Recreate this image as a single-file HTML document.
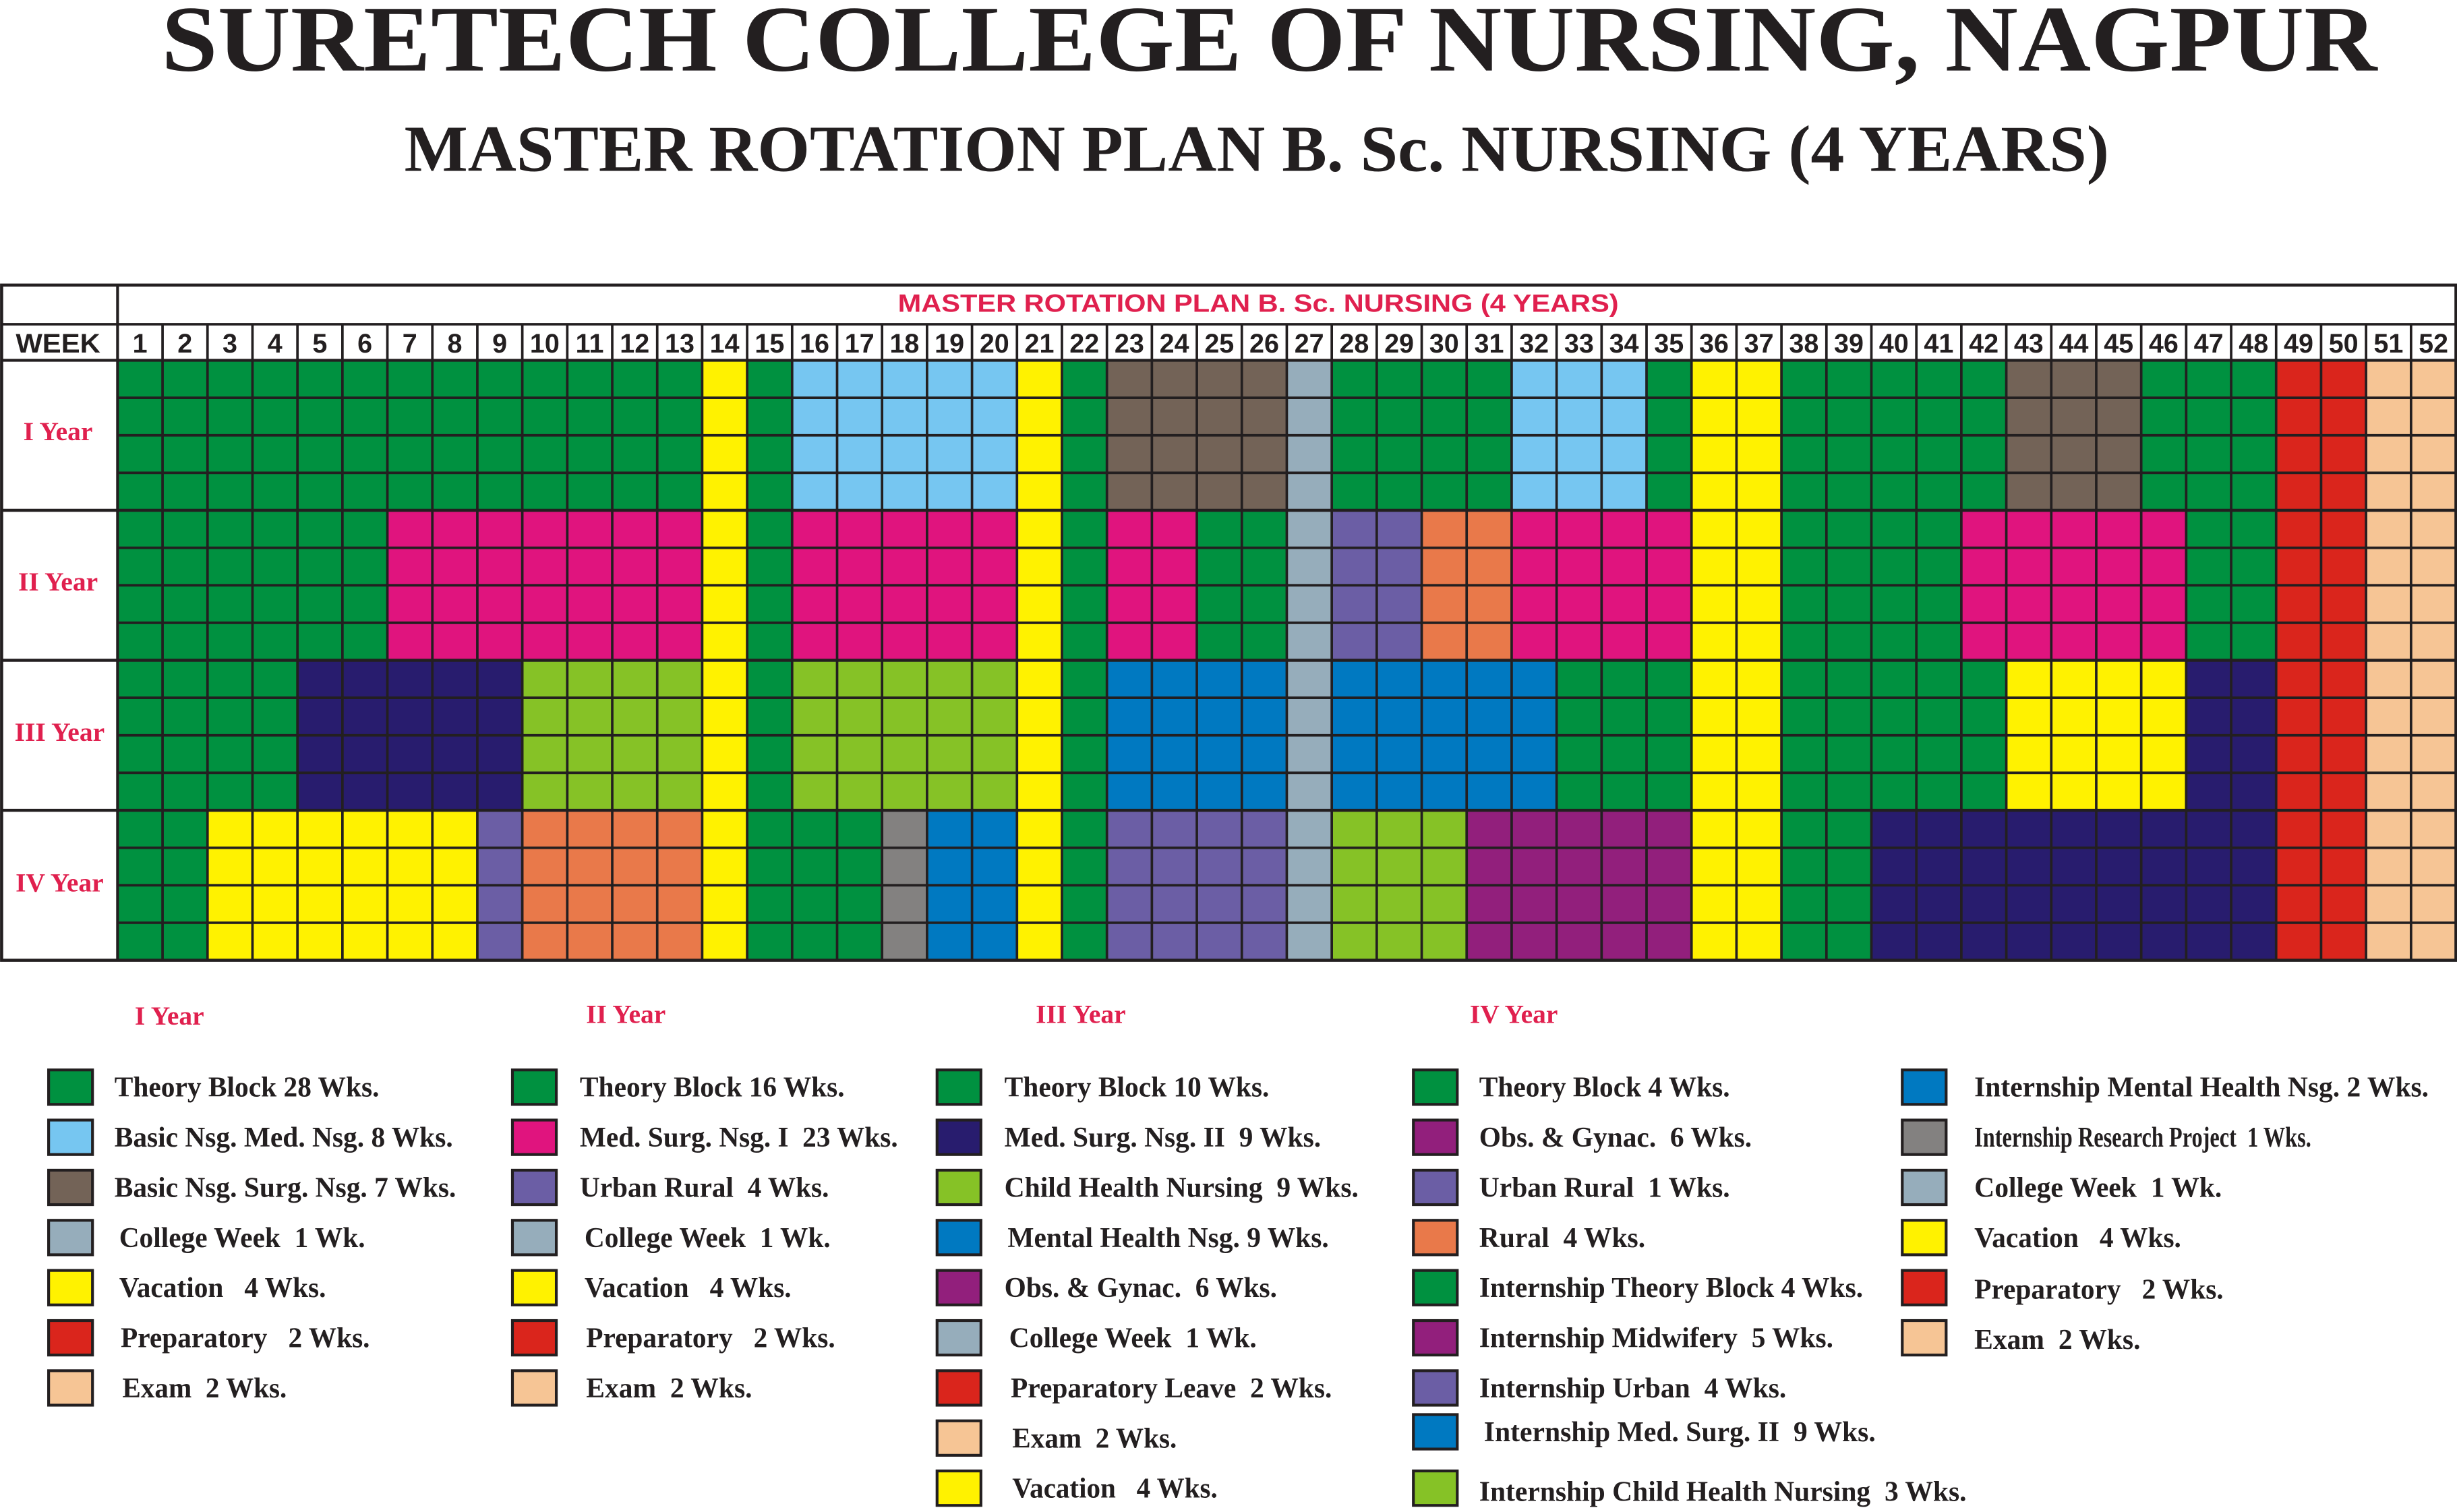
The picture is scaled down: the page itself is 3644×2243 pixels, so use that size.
<!DOCTYPE html>
<html><head><meta charset="utf-8"><style>
html,body{margin:0;padding:0;background:#fff;}
svg{display:block;}
text{white-space:pre;}
.lg{font-family:"Liberation Serif",serif;font-weight:bold;font-size:18px;fill:#231f20;}
.yr{font-family:"Liberation Serif",serif;font-weight:bold;font-size:17px;fill:#e0204e;}
.wk{font-family:"Liberation Sans Narrow","Liberation Sans",sans-serif;font-weight:bold;font-size:17px;fill:#231f20;text-anchor:middle;}
</style></head><body>
<svg id="s" width="3644" height="2243" viewBox="0 0 1568 965.2" xmlns="http://www.w3.org/2000/svg" xml:space="preserve">
<text x="810" y="45" text-anchor="middle" font-family="Liberation Serif,serif" font-weight="bold" font-size="60" fill="#231f20" textLength="1414" lengthAdjust="spacingAndGlyphs">SURETECH COLLEGE OF NURSING, NAGPUR</text>
<text x="802" y="109" text-anchor="middle" font-family="Liberation Serif,serif" font-weight="bold" font-size="42" fill="#231f20" textLength="1088" lengthAdjust="spacingAndGlyphs">MASTER ROTATION PLAN B. Sc. NURSING (4 YEARS)</text>
<g id="grid"></g>
<rect x="1" y="182" width="1566.4" height="431" fill="none" stroke="#231f20" stroke-width="2"/>
<line x1="75" y1="182" x2="75" y2="613" stroke="#231f20" stroke-width="1.8"/>
<line x1="1" y1="207" x2="1567.4" y2="207" stroke="#231f20" stroke-width="1.6"/>
<line x1="1" y1="230" x2="1567.4" y2="230" stroke="#231f20" stroke-width="1.8"/>
<text x="803" y="199" text-anchor="middle" font-family="Liberation Sans,sans-serif" font-weight="bold" font-size="16" fill="#e0204e" textLength="460" lengthAdjust="spacingAndGlyphs">MASTER ROTATION PLAN B. Sc. NURSING (4 YEARS)</text>
<text class="wk" x="37" y="225" textLength="54" lengthAdjust="spacingAndGlyphs">WEEK</text>
<g>
<text class="wk" x="89.3" y="225">1</text><text class="wk" x="118.0" y="225">2</text><text class="wk" x="146.7" y="225">3</text><text class="wk" x="175.4" y="225">4</text><text class="wk" x="204.1" y="225">5</text><text class="wk" x="232.8" y="225">6</text><text class="wk" x="261.5" y="225">7</text><text class="wk" x="290.2" y="225">8</text><text class="wk" x="318.9" y="225">9</text><text class="wk" x="347.6" y="225">10</text><text class="wk" x="376.3" y="225">11</text><text class="wk" x="405.0" y="225">12</text><text class="wk" x="433.7" y="225">13</text><text class="wk" x="462.4" y="225">14</text><text class="wk" x="491.1" y="225">15</text><text class="wk" x="519.8" y="225">16</text><text class="wk" x="548.5" y="225">17</text><text class="wk" x="577.2" y="225">18</text><text class="wk" x="605.9" y="225">19</text><text class="wk" x="634.6" y="225">20</text><text class="wk" x="663.3" y="225">21</text><text class="wk" x="692.0" y="225">22</text><text class="wk" x="720.7" y="225">23</text><text class="wk" x="749.4" y="225">24</text><text class="wk" x="778.1" y="225">25</text><text class="wk" x="806.8" y="225">26</text><text class="wk" x="835.5" y="225">27</text><text class="wk" x="864.2" y="225">28</text><text class="wk" x="892.9" y="225">29</text><text class="wk" x="921.6" y="225">30</text><text class="wk" x="950.3" y="225">31</text><text class="wk" x="979.0" y="225">32</text><text class="wk" x="1007.7" y="225">33</text><text class="wk" x="1036.4" y="225">34</text><text class="wk" x="1065.1" y="225">35</text><text class="wk" x="1093.8" y="225">36</text><text class="wk" x="1122.5" y="225">37</text><text class="wk" x="1151.2" y="225">38</text><text class="wk" x="1179.9" y="225">39</text><text class="wk" x="1208.6" y="225">40</text><text class="wk" x="1237.3" y="225">41</text><text class="wk" x="1266.0" y="225">42</text><text class="wk" x="1294.7" y="225">43</text><text class="wk" x="1323.4" y="225">44</text><text class="wk" x="1352.1" y="225">45</text><text class="wk" x="1380.8" y="225">46</text><text class="wk" x="1409.5" y="225">47</text><text class="wk" x="1438.2" y="225">48</text><text class="wk" x="1466.9" y="225">49</text><text class="wk" x="1495.6" y="225">50</text><text class="wk" x="1524.3" y="225">51</text><text class="wk" x="1553.0" y="225">52</text>
</g>
<text class="yr" x="37" y="281" text-anchor="middle">I Year</text>
<text class="yr" x="37" y="377" text-anchor="middle">II Year</text>
<text class="yr" x="38" y="473" text-anchor="middle">III Year</text>
<text class="yr" x="38" y="569" text-anchor="middle">IV Year</text>

<text class="yr" x="86" y="654">I Year</text>
<text class="yr" x="374" y="653">II Year</text>
<text class="yr" x="661" y="653">III Year</text>
<text class="yr" x="938" y="653">IV Year</text>
<g id="legend"></g>
<g>
<text class="lg" x="73" y="700" textLength="169" lengthAdjust="spacingAndGlyphs">Theory Block 28 Wks.</text>
<text class="lg" x="73" y="732" textLength="216" lengthAdjust="spacingAndGlyphs">Basic Nsg. Med. Nsg. 8 Wks.</text>
<text class="lg" x="73" y="764" textLength="218" lengthAdjust="spacingAndGlyphs">Basic Nsg. Surg. Nsg. 7 Wks.</text>
<text class="lg" x="76" y="796" textLength="157" lengthAdjust="spacingAndGlyphs">College Week  1 Wk.</text>
<text class="lg" x="76" y="828" textLength="132" lengthAdjust="spacingAndGlyphs">Vacation   4 Wks.</text>
<text class="lg" x="77" y="860" textLength="159" lengthAdjust="spacingAndGlyphs">Preparatory   2 Wks.</text>
<text class="lg" x="78" y="892" textLength="105" lengthAdjust="spacingAndGlyphs">Exam  2 Wks.</text>

<text class="lg" x="370" y="700" textLength="169" lengthAdjust="spacingAndGlyphs">Theory Block 16 Wks.</text>
<text class="lg" x="370" y="732" textLength="203" lengthAdjust="spacingAndGlyphs">Med. Surg. Nsg. I  23 Wks.</text>
<text class="lg" x="370" y="764" textLength="159" lengthAdjust="spacingAndGlyphs">Urban Rural  4 Wks.</text>
<text class="lg" x="373" y="796" textLength="157" lengthAdjust="spacingAndGlyphs">College Week  1 Wk.</text>
<text class="lg" x="373" y="828" textLength="132" lengthAdjust="spacingAndGlyphs">Vacation   4 Wks.</text>
<text class="lg" x="374" y="860" textLength="159" lengthAdjust="spacingAndGlyphs">Preparatory   2 Wks.</text>
<text class="lg" x="374" y="892" textLength="106" lengthAdjust="spacingAndGlyphs">Exam  2 Wks.</text>

<text class="lg" x="641" y="700" textLength="169" lengthAdjust="spacingAndGlyphs">Theory Block 10 Wks.</text>
<text class="lg" x="641" y="732" textLength="202" lengthAdjust="spacingAndGlyphs">Med. Surg. Nsg. II  9 Wks.</text>
<text class="lg" x="641" y="764" textLength="226" lengthAdjust="spacingAndGlyphs">Child Health Nursing  9 Wks.</text>
<text class="lg" x="643" y="796" textLength="205" lengthAdjust="spacingAndGlyphs">Mental Health Nsg. 9 Wks.</text>
<text class="lg" x="641" y="828" textLength="174" lengthAdjust="spacingAndGlyphs">Obs. &amp; Gynac.  6 Wks.</text>
<text class="lg" x="644" y="860" textLength="158" lengthAdjust="spacingAndGlyphs">College Week  1 Wk.</text>
<text class="lg" x="645" y="892" textLength="205" lengthAdjust="spacingAndGlyphs">Preparatory Leave  2 Wks.</text>
<text class="lg" x="646" y="924" textLength="105" lengthAdjust="spacingAndGlyphs">Exam  2 Wks.</text>
<text class="lg" x="646" y="956" textLength="131" lengthAdjust="spacingAndGlyphs">Vacation   4 Wks.</text>

<text class="lg" x="944" y="700" textLength="160" lengthAdjust="spacingAndGlyphs">Theory Block 4 Wks.</text>
<text class="lg" x="944" y="732" textLength="174" lengthAdjust="spacingAndGlyphs">Obs. &amp; Gynac.  6 Wks.</text>
<text class="lg" x="944" y="764" textLength="160" lengthAdjust="spacingAndGlyphs">Urban Rural  1 Wks.</text>
<text class="lg" x="944" y="796" textLength="106" lengthAdjust="spacingAndGlyphs">Rural  4 Wks.</text>
<text class="lg" x="944" y="828" textLength="245" lengthAdjust="spacingAndGlyphs">Internship Theory Block 4 Wks.</text>
<text class="lg" x="944" y="860" textLength="226" lengthAdjust="spacingAndGlyphs">Internship Midwifery  5 Wks.</text>
<text class="lg" x="944" y="892" textLength="196" lengthAdjust="spacingAndGlyphs">Internship Urban  4 Wks.</text>
<text class="lg" x="947" y="920" textLength="250" lengthAdjust="spacingAndGlyphs">Internship Med. Surg. II  9 Wks.</text>
<text class="lg" x="944" y="958" textLength="311" lengthAdjust="spacingAndGlyphs">Internship Child Health Nursing  3 Wks.</text>

<text class="lg" x="1260" y="700" textLength="290" lengthAdjust="spacingAndGlyphs">Internship Mental Health Nsg. 2 Wks.</text>
<text class="lg" x="1260" y="732" textLength="215" lengthAdjust="spacingAndGlyphs">Internship Research Project  1 Wks.</text>
<text class="lg" x="1260" y="764" textLength="158" lengthAdjust="spacingAndGlyphs">College Week  1 Wk.</text>
<text class="lg" x="1260" y="796" textLength="132" lengthAdjust="spacingAndGlyphs">Vacation   4 Wks.</text>
<text class="lg" x="1260" y="829" textLength="159" lengthAdjust="spacingAndGlyphs">Preparatory   2 Wks.</text>
<text class="lg" x="1260" y="861" textLength="106" lengthAdjust="spacingAndGlyphs">Exam  2 Wks.</text>
</g>
</svg>
<script>
var C={G:"#009140",Y:"#fff200",L:"#76c6f1",B:"#736357",K:"#96adbb",P:"#e0147e",U:"#6b5ea5",O:"#e9794a",N:"#281c6e",M:"#86c226",E:"#0079c1",V:"#921f7c",A:"#838180",R:"#da251c",T:"#f6c595"};
function seg(a){var r=[];a.forEach(function(p){for(var i=0;i<p[1];i++)r.push(p[0]);});return r;}
var years=[
seg([["G",13],["Y",1],["G",1],["L",5],["Y",1],["G",1],["B",4],["K",1],["G",4],["L",3],["G",1],["Y",2],["G",5],["B",3],["G",3],["R",2],["T",2]]),
seg([["G",6],["P",7],["Y",1],["G",1],["P",5],["Y",1],["G",1],["P",2],["G",2],["K",1],["U",2],["O",2],["P",4],["Y",2],["G",4],["P",5],["G",2],["R",2],["T",2]]),
seg([["G",4],["N",5],["M",4],["Y",1],["G",1],["M",5],["Y",1],["G",1],["E",4],["K",1],["E",5],["G",3],["Y",2],["G",5],["Y",4],["N",2],["R",2],["T",2]]),
seg([["G",2],["Y",6],["U",1],["O",4],["Y",1],["G",3],["A",1],["E",2],["Y",1],["G",1],["U",4],["K",1],["M",3],["V",5],["Y",2],["G",2],["N",9],["R",2],["T",2]])];
var g=document.getElementById("grid"),h="";
var x0=75,cw=28.7,y0=230,rh=(613-230)/16;
for(var y=0;y<4;y++)for(var r=0;r<4;r++)for(var c=0;c<52;c++){
h+='<rect x="'+(x0+c*cw)+'" y="'+(y0+(y*4+r)*rh)+'" width="'+cw+'" height="'+rh+'" fill="'+C[years[y][c]]+'"/>';}
for(var c=1;c<52;c++){h+='<line x1="'+(x0+c*cw)+'" y1="207" x2="'+(x0+c*cw)+'" y2="613" stroke="#231f20" stroke-width="1.6"/>';}
for(var r=1;r<16;r++){var yy=y0+r*rh;h+='<line x1="'+(r%4?x0:1)+'" y1="'+yy+'" x2="1567.4" y2="'+yy+'" stroke="#231f20" stroke-width="'+(r%4?1.6:1.9)+'"/>';}
g.innerHTML=h;
var L=[[31,[694,726,758,790,822,854,886],"GLBKYRT"],[327,[694,726,758,790,822,854,886],"GPUKYRT"],[598,[694,726,758,790,822,854,886,918,950],"GNMEVKRTY"],[902,[694,726,758,790,822,854,886,914,950],"GVUOGVUEM"],[1214,[694,726,758,790,822,854],"EAKYRT"]];
var lh="";
L.forEach(function(col){col[1].forEach(function(yc,i){lh+='<rect x="'+col[0]+'" y="'+(yc-11)+'" width="28" height="22" fill="'+C[col[2][i]]+'" stroke="#231f20" stroke-width="1.8"/>';});});
document.getElementById("legend").innerHTML=lh;
</script>
</body></html>
